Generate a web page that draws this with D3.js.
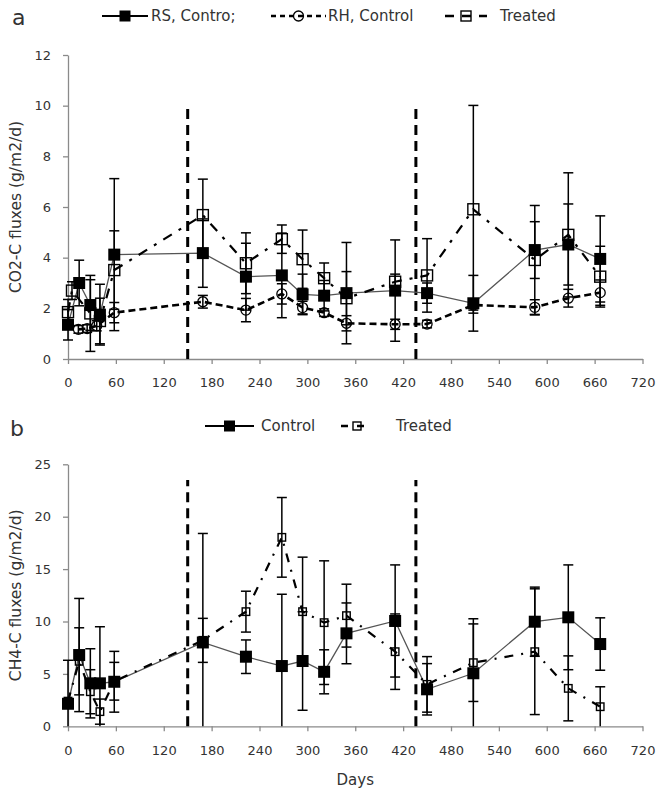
<!DOCTYPE html>
<html><head><meta charset="utf-8">
<script src="https://cdn.jsdelivr.net/npm/d3@7"></script>
<style>body{margin:0;background:#fff;} svg text{font-family:"DejaVu Sans",sans-serif;}</style>
</head><body>
<svg id="chart" width="664" height="797"></svg>
<script>
// ---------- Data ----------
const xTickValues = [0, 60, 120, 180, 240, 300, 360, 420, 480, 540, 600, 660, 720];
const yTicksA = [0, 2, 4, 6, 8, 10, 12];
const yTicksB = [0, 5, 10, 15, 20, 25];
const treatmentDays = [150, 436];

// Panel a: CO2-C fluxes
const daysRS = [0, 14, 28, 40, 58, 169, 223, 268, 294, 321, 349, 410, 450, 508, 585, 627, 667];
const rsControl = [1.35, 3.0, 2.13, 1.75, 4.12, 4.18, 3.25, 3.3, 2.55, 2.5, 2.6, 2.7, 2.6, 2.2, 4.3, 4.52, 3.95];
const rsControlErr = [0.6, 0.9, 1.0, 1.2, 3.0, 1.35, 1.32, 1.67, 0.8, 0.6, 2.0, 2.0, 0.4, 1.1, 1.12, 1.6, 1.7];

const daysRH = [13, 24, 36, 58, 169, 223, 268, 294, 321, 349, 410, 450, 508, 585, 627, 667];
const rhControl = [1.17, 1.2, 1.31, 1.83, 2.26, 1.93, 2.57, 2.03, 1.83, 1.41, 1.37, 1.38, 2.13, 2.04, 2.4, 2.62];
const rhControlErr = [0.15, 0.15, 0.2, 0.4, 0.25, 0.46, 0.4, 0.25, 0.15, 0.3, 0.2, 0.15, 0.2, 0.3, 0.35, 0.5];

const daysTreatedA = [0, 5, 28, 40, 58, 169, 223, 268, 294, 321, 349, 410, 450, 508, 585, 627, 667];
const co2Treated = [1.85, 2.7, 1.8, 1.5, 3.51, 5.68, 3.78, 4.73, 3.94, 3.19, 2.4, 3.05, 3.3, 5.91, 3.91, 4.9, 3.25];
const co2TreatedErr = [0.5, 0.35, 1.5, 0.9, 1.55, 1.42, 1.2, 0.56, 1.15, 0.6, 1.05, 0.3, 1.45, 4.1, 2.15, 2.45, 1.2];

// Panel b: CH4-C fluxes
const daysB = [0, 14, 28, 40, 58, 169, 223, 268, 294, 321, 349, 410, 450, 508, 585, 627, 667];
const ch4Control = [2.15, 6.8, 4.1, 4.1, 4.25, 8.0, 6.64, 5.75, 6.23, 5.2, 8.87, 10.05, 3.53, 5.06, 9.98, 10.4, 7.85];
const ch4ControlErr = [0.4, 5.4, 3.3, 5.4, 2.9, 10.4, 1.6, 6.85, 4.7, 2.1, 2.9, 5.35, 2.45, 5.2, 3.3, 5.0, 2.5];
const ch4Treated = [2.4, 6.2, 3.3, 1.4, 4.3, 8.2, 10.94, 18.03, 10.94, 9.89, 10.56, 7.12, 4.0, 6.07, 7.12, 3.62, 1.87];
const ch4TreatedErr = [3.9, 3.2, 2.1, 1.2, 1.8, 2.1, 1.95, 3.8, 5.2, 5.9, 3.0, 3.6, 2.65, 3.7, 6.0, 3.1, 1.9];

// ---------- Drawing ----------
const svg = d3.select("#chart");
const AXIS_COLOR = "#8a8a8a";
const TEXT_COLOR = "#333";
const x = d3.scaleLinear().domain([0, 720]).range([68, 642.5]);

const zip = (days, vals, errs) => days.map((d, i) => ({day: d, v: vals[i], e: errs[i]}));

function drawAxes(y, yTicks) {
  const gx = svg.append("g").attr("transform", `translate(0,${y(0)})`)
    .call(d3.axisBottom(x).tickValues(xTickValues).tickSize(5).tickSizeOuter(0).tickPadding(14));
  const gy = svg.append("g").attr("transform", `translate(${x(0)},0)`)
    .call(d3.axisLeft(y).tickValues(yTicks).tickSize(5).tickSizeOuter(0).tickPadding(12));
  [gx, gy].forEach(g => {
    g.select(".domain").attr("stroke", AXIS_COLOR).attr("stroke-width", 1.3);
    g.selectAll(".tick line").attr("stroke", AXIS_COLOR).attr("stroke-width", 1.3);
    g.selectAll(".tick text").attr("fill", TEXT_COLOR).attr("font-size", 13)
      .attr("font-family", "DejaVu Sans, sans-serif");
  });
}

function drawVLines(y, top) {
  svg.append("g").selectAll("line").data(treatmentDays).join("line")
    .attr("x1", d => x(d)).attr("x2", d => x(d))
    .attr("y1", y(0)).attr("y2", y(top))
    .attr("stroke", "#000").attr("stroke-width", 3).attr("stroke-dasharray", "10,6");
}

function drawLine(y, data, style) {
  const line = d3.line().x(d => x(d.day)).y(d => y(d.v));
  svg.append("path").datum(data).attr("d", line).attr("fill", "none")
    .attr("stroke", style.color).attr("stroke-width", style.width)
    .attr("stroke-dasharray", style.dash || null);
}

function drawErr(y, data) {
  const g = svg.append("g").attr("stroke", "#000").attr("stroke-width", 1.5);
  data.forEach(d => {
    const lo = y(Math.max(0, d.v - d.e)), hi = y(d.v + d.e), cx = x(d.day);
    g.append("line").attr("x1", cx).attr("x2", cx).attr("y1", lo).attr("y2", hi);
    g.append("line").attr("x1", cx - 5).attr("x2", cx + 5).attr("y1", hi).attr("y2", hi);
    if (d.v - d.e > 0) g.append("line").attr("x1", cx - 5).attr("x2", cx + 5).attr("y1", lo).attr("y2", lo);
  });
}

function marker(g, type, cx, cy, size) {
  if (type === "filled") {
    g.append("rect").attr("x", cx - size / 2).attr("y", cy - size / 2).attr("width", size).attr("height", size)
      .attr("fill", "#000");
  } else if (type === "open") {
    g.append("rect").attr("x", cx - size / 2).attr("y", cy - size / 2).attr("width", size).attr("height", size)
      .attr("fill", "none").attr("stroke", "#000").attr("stroke-width", 1.4);
  } else if (type === "circle") {
    g.append("circle").attr("cx", cx).attr("cy", cy).attr("r", size / 2)
      .attr("fill", "none").attr("stroke", "#000").attr("stroke-width", 1.3);
  }
}

function drawMarkers(y, data, type, size) {
  const g = svg.append("g");
  data.forEach(d => marker(g, type, x(d.day), y(d.v), size));
}

function legendItem(x1, x2, cy, style, type, size, label, tx) {
  svg.append("line").attr("x1", x1).attr("x2", x2).attr("y1", cy).attr("y2", cy)
    .attr("stroke", "#000").attr("stroke-width", style.lw).attr("stroke-dasharray", style.dash || null);
  marker(svg, type, (x1 + x2) / 2, cy, size);
  svg.append("text").attr("x", tx).attr("y", cy).attr("dy", "0.35em").attr("font-size", 15)
    .attr("fill", TEXT_COLOR).text(label);
}

// Panel a
const yA = d3.scaleLinear().domain([0, 12]).range([359, 55]);
drawAxes(yA, yTicksA);
drawVLines(yA, 10);
const rsData = zip(daysRS, rsControl, rsControlErr);
const rhData = zip(daysRH, rhControl, rhControlErr);
const trA = zip(daysTreatedA, co2Treated, co2TreatedErr);
drawLine(yA, rsData, {color: "#555", width: 1.3});
drawLine(yA, rhData, {color: "#000", width: 2.6, dash: "7,4"});
drawLine(yA, trA, {color: "#000", width: 2.2, dash: "10,8,3,8"});
drawErr(yA, rhData);
drawErr(yA, trA);
drawErr(yA, rsData);
drawMarkers(yA, rhData, "circle", 10);
drawMarkers(yA, trA, "open", 11);
drawMarkers(yA, rsData, "filled", 12);

svg.append("text").attr("x", 12).attr("y", 25).attr("font-size", 22).attr("fill", TEXT_COLOR).text("a");
legendItem(102, 148, 16, {lw: 2}, "filled", 11, "RS, Contro;", 151);
legendItem(271, 326, 16, {lw: 2.4, dash: "5,4"}, "circle", 10, "RH, Control", 328);
legendItem(445, 487, 16, {lw: 2.4, dash: "9,8"}, "open", 10, "Treated", 500);

svg.append("text").attr("transform", `translate(21,${(yA(0) + yA(12)) / 2}) rotate(-90)`)
  .attr("text-anchor", "middle").attr("font-size", 15.5).attr("fill", TEXT_COLOR)
  .text("CO2-C fluxes (g/m2/d)");

// Panel b
const yB = d3.scaleLinear().domain([0, 25]).range([726.3, 464.3]);
drawAxes(yB, yTicksB);
drawVLines(yB, 23.5);
const ctrlB = zip(daysB, ch4Control, ch4ControlErr);
const trB = zip(daysB, ch4Treated, ch4TreatedErr);
drawLine(yB, ctrlB, {color: "#555", width: 1.3});
drawLine(yB, trB, {color: "#000", width: 2.2, dash: "9,8,2,8"});
drawErr(yB, trB);
drawErr(yB, ctrlB);
drawMarkers(yB, trB, "open", 7.5);
drawMarkers(yB, ctrlB, "filled", 12);

svg.append("text").attr("x", 10).attr("y", 436).attr("font-size", 22).attr("fill", TEXT_COLOR).text("b");
legendItem(205, 254, 426, {lw: 2}, "filled", 11, "Control", 261);
legendItem(341, 373, 426, {lw: 2.4, dash: "7,9"}, "open", 8, "Treated", 396);

svg.append("text").attr("transform", `translate(21,${(yB(0) + yB(25)) / 2}) rotate(-90)`)
  .attr("text-anchor", "middle").attr("font-size", 15.5).attr("fill", TEXT_COLOR)
  .text("CH4-C fluxes (g/m2/d)");

svg.append("text").attr("x", (x(0) + x(720)) / 2).attr("y", 785).attr("text-anchor", "middle")
  .attr("font-size", 15).attr("fill", TEXT_COLOR).text("Days");
</script>
</body></html>
